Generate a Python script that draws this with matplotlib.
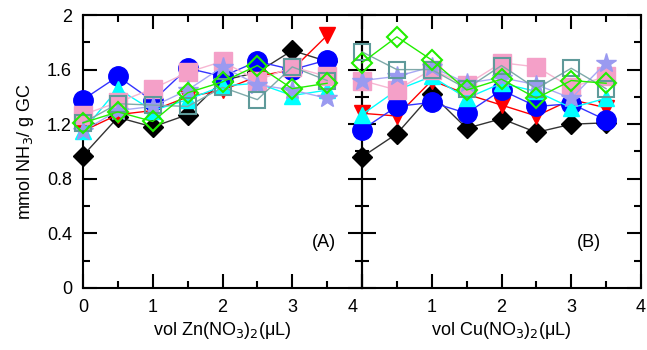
import matplotlib
matplotlib.use("Agg")
import matplotlib.pyplot as plt
from matplotlib.ticker import MultipleLocator
from matplotlib.transforms import ScaledTranslation

plt.rcParams['font.family'] = ['Liberation Sans', 'DejaVu Sans']

x = [0, 0.5, 1, 1.5, 2, 2.5, 3, 3.5]

# Panel A: Zn(NO3)2
zn_black = [0.97, 1.25, 1.18, 1.27, 1.52, 1.58, 1.74, 1.66]
zn_red = [1.15, 1.27, 1.30, 1.40, 1.45, 1.55, 1.60, 1.85]
zn_blue = [1.38, 1.55, 1.37, 1.61, 1.55, 1.66, 1.60, 1.67]
zn_cyan = [1.15, 1.46, 1.30, 1.38, 1.48, 1.50, 1.41, 1.45]
zn_pink = [1.27, 1.36, 1.46, 1.58, 1.66, 1.52, 1.62, 1.55]
zn_star = [1.15, 1.30, 1.33, 1.45, 1.62, 1.49, 1.45, 1.39]
zn_teal = [1.21, 1.35, 1.34, 1.33, 1.47, 1.38, 1.62, 1.52]
zn_green = [1.21, 1.29, 1.22, 1.43, 1.51, 1.63, 1.46, 1.50]

# Panel B: Cu(NO3)2
cu_black = [0.96, 1.13, 1.42, 1.17, 1.24, 1.14, 1.20, 1.21]
cu_red = [1.28, 1.26, 1.52, 1.42, 1.34, 1.26, 1.38, 1.32]
cu_blue = [1.16, 1.33, 1.36, 1.28, 1.45, 1.33, 1.35, 1.23]
cu_cyan = [1.27, 1.45, 1.55, 1.39, 1.50, 1.44, 1.32, 1.39]
cu_pink = [1.52, 1.45, 1.60, 1.49, 1.65, 1.62, 1.47, 1.55]
cu_star = [1.52, 1.55, 1.62, 1.50, 1.54, 1.49, 1.39, 1.65]
cu_teal = [1.73, 1.60, 1.60, 1.46, 1.63, 1.46, 1.61, 1.46]
cu_green = [1.65, 1.84, 1.67, 1.45, 1.53, 1.39, 1.52, 1.50]

styles = [
    dict(marker='D', ms=10, mfc='black', mec='black', lc='#333333'),
    dict(marker='v', ms=12, mfc='red', mec='red', lc='red'),
    dict(marker='o', ms=14, mfc='blue', mec='blue', lc='#3333ff'),
    dict(marker='^', ms=12, mfc='cyan', mec='cyan', lc='cyan'),
    dict(marker='s', ms=13, mfc='#f4a0c8', mec='#f4a0c8', lc='#f7b6d2'),
    dict(marker='*', ms=15, mfc='#9a9af0', mec='#9a9af0', lc='#a8a8f5'),
    dict(marker='s', ms=11, mfc='none', mec='#5f9a9a', lc='#7fa9a9'),
    dict(marker='D', ms=10, mfc='none', mec='#22ee00', lc='#22ee00'),
]

fig = plt.figure(figsize=(6.47, 3.5), dpi=100)
axA = fig.add_axes([83/647, 62/350, 279/647, 273/350])
axB = fig.add_axes([362/647, 62/350, 279/647, 273/350])

dataA = [zn_black, zn_red, zn_blue, zn_cyan, zn_pink, zn_star, zn_teal, zn_green]
dataB = [cu_black, cu_red, cu_blue, cu_cyan, cu_pink, cu_star, cu_teal, cu_green]

for ax, data in ((axA, dataA), (axB, dataB)):
    for st, y in zip(styles, data):
        ax.plot(x, y, color=st['lc'], lw=1.0, marker=st['marker'], ms=st['ms'],
                mfc=st['mfc'], mec=st['mec'],
                mew=1.5 if st['mfc'] == 'none' else 1.0, clip_on=False, zorder=3)
    ax.set_xlim(0, 4)
    ax.set_ylim(0, 2)
    ax.xaxis.set_major_locator(MultipleLocator(1))
    ax.xaxis.set_minor_locator(MultipleLocator(0.5))
    ax.yaxis.set_major_locator(MultipleLocator(0.4))
    ax.yaxis.set_minor_locator(MultipleLocator(0.2))
    ax.tick_params(which='both', direction='in', top=True, right=True,
                   width=1.5, labelsize=13, pad=8)
    ax.tick_params(which='major', length=10)
    ax.tick_params(which='minor', length=5)
    for sp in ax.spines.values():
        sp.set_linewidth(1.5)
    ax.patch.set_alpha(0)

axA.set_yticks([0, 0.4, 0.8, 1.2, 1.6, 2.0])
axA.set_yticklabels(['0', '0.4', '0.8', '1.2', '1.6', '2'])
axB.set_yticklabels([])
axA.set_xticks([0, 1, 2, 3, 4])
axA.set_xticklabels(['0', '1', '2', '3', '4'])
axB.set_xticks([0, 1, 2, 3, 4])
axB.set_xticklabels(['', '1', '2', '3', '4'])
lab4 = axA.get_xticklabels()[-1]
lab4.set_transform(lab4.get_transform() + ScaledTranslation(-0.09, 0, fig.dpi_scale_trans))

axA.set_ylabel('mmol NH$_3$/ g GC', fontsize=13, labelpad=8)
axA.set_xlabel('vol Zn(NO$_3$)$_2$(\u03bcL)', fontsize=13, labelpad=3)
axB.set_xlabel('vol Cu(NO$_3$)$_2$(\u03bcL)', fontsize=13, labelpad=3)

axA.text(3.45, 0.33, '(A)', fontsize=13, ha='center', va='center')
axB.text(3.25, 0.33, '(B)', fontsize=13, ha='center', va='center')

fig.savefig('out.png', dpi=100)
